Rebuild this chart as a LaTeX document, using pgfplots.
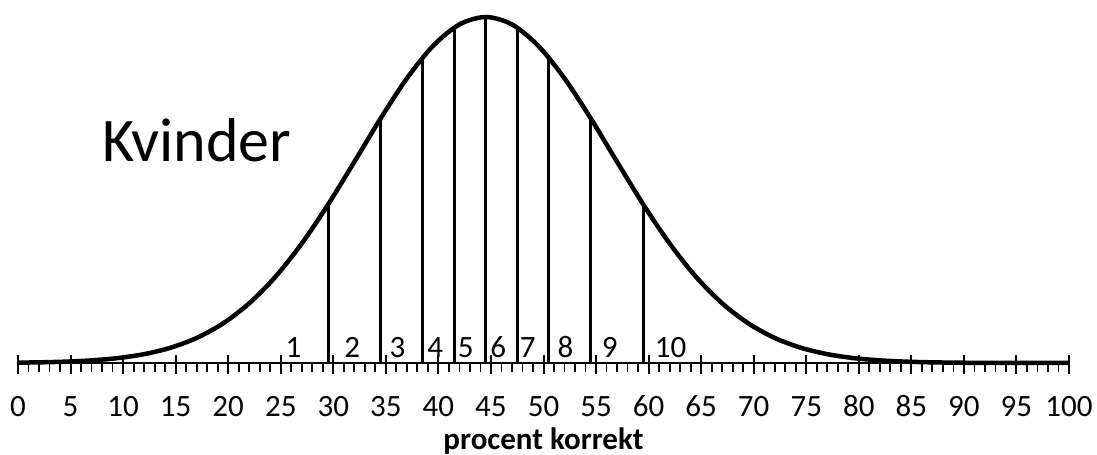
\documentclass[border=0pt]{standalone}
\usepackage{fontspec}
\setmainfont{Carlito}
\usepackage{pgfplots}
\pgfplotsset{compat=1.18}
\begin{document}
\begin{tikzpicture}
\useasboundingbox (0,0) rectangle (548.5bp,227.5bp);
\begin{axis}[
  at={(9bp,46bp)}, anchor=south west,
  scale only axis, width=525.5bp, height=173bp,
  xmin=0, xmax=100, ymin=0, ymax=1,
  axis y line=none, axis x line*=bottom,
  x axis line style={-, line width=1bp},
  xtick distance=5, minor x tick num=4,
  xtick align=outside,
  major tick length=9.5bp, minor tick length=4.5bp,
  every major tick/.append style={line width=1bp, black, yshift=4bp},
  every minor tick/.append style={line width=0.9bp, black},
  /pgf/number format/assume math mode=true,
  xticklabel style={font=\fontsize{15.5bp}{18bp}\selectfont, anchor=base, yshift=-17bp},
  xlabel={\bfseries procent korrekt},
  xlabel style={font=\fontsize{15.5bp}{18bp}\selectfont, at={(axis description cs:0.5,0)}, anchor=base, yshift=-43bp},
  clip=false,
]
% normal curve (mean 44.5, sd 12), peak scaled to 1
\addplot[black, line width=2.25bp, smooth, tension=0.5] coordinates {
(0,0.00103) (2,0.00189) (4.5,0.00387) (7,0.00757) (9.5,0.01421) (12,0.02554)
(14.5,0.04394) (17,0.07238) (19.5,0.11418) (22,0.17243) (24.5,0.24935)
(27,0.34528) (29.5,0.45783) (32,0.58127) (34.5,0.70668) (37,0.82258)
(39.5,0.91686) (42,0.97853) (44.5,1.0) (47,0.97853) (49.5,0.91686)
(52,0.82258) (54.5,0.70668) (57,0.58127) (59.5,0.45783) (62,0.34528)
(64.5,0.24935) (67,0.17243) (69.5,0.11418) (72,0.07238) (74.5,0.04394)
(77,0.02554) (79.5,0.01421) (82,0.00757) (84.5,0.00387) (87,0.00189)
(89.5,0.00088) (92,0.0004) (94.5,0.00017) (100,0.00002)
};
% decile boundaries
\addplot[black, line width=1.5bp, ycomb, mark=none] coordinates {
(29.5,0.4578) (34.5,0.7067) (38.5,0.8825) (41.5,0.9692) (44.5,1.0)
(47.5,0.9692) (50.5,0.8825) (54.5,0.7067) (59.5,0.4578)
};
% decile labels
\begin{scope}[every node/.style={font=\fontsize{15.5bp}{18bp}\selectfont, anchor=base, inner sep=0pt}]
\node at (axis cs:26.2,0.0145) {1};
\node at (axis cs:31.8,0.0145) {2};
\node at (axis cs:36.1,0.0145) {3};
\node at (axis cs:39.7,0.0145) {4};
\node at (axis cs:42.6,0.0145) {5};
\node at (axis cs:45.7,0.0145) {6};
\node at (axis cs:48.5,0.0145) {7};
\node at (axis cs:52.1,0.0145) {8};
\node at (axis cs:56.3,0.0145) {9};
\node at (axis cs:62.1,0.0145) {10};
\end{scope}
\node[font=\fontsize{31bp}{37bp}\selectfont, anchor=base west, inner sep=0pt] at (axis cs:7.99,0.5838) {Kvinder};
\end{axis}
\end{tikzpicture}
\end{document}
